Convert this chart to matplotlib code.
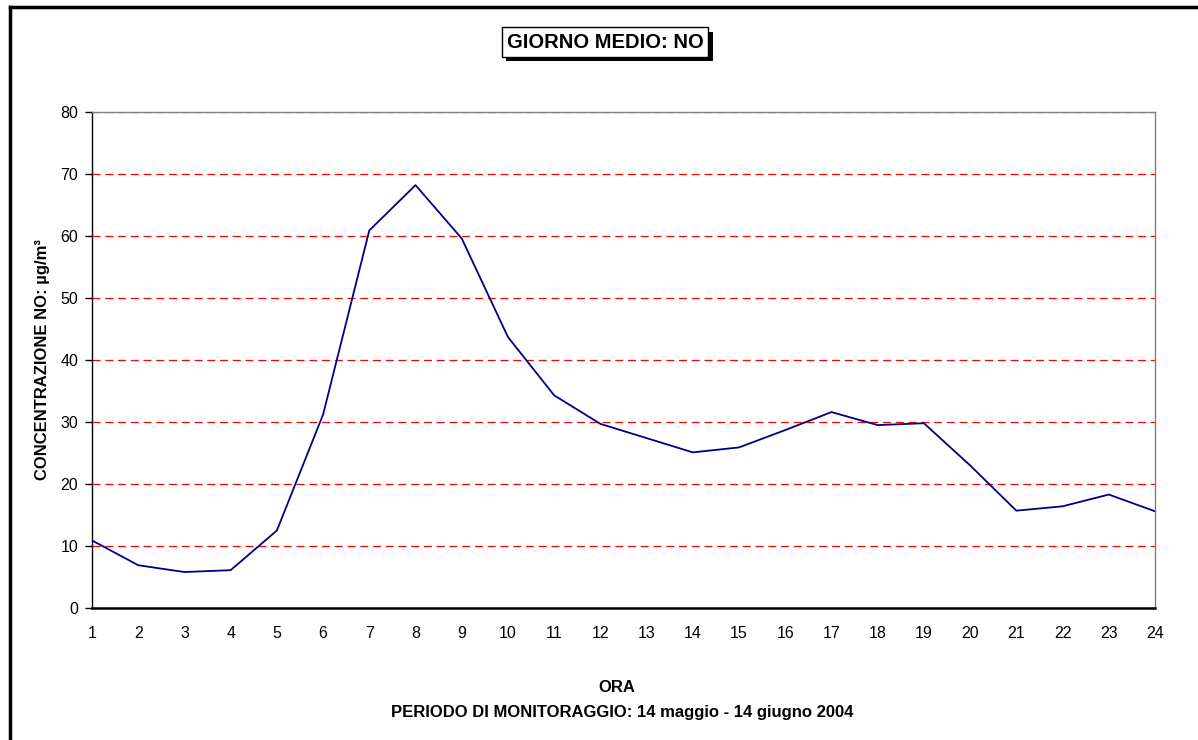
import matplotlib
matplotlib.use("Agg")
import matplotlib.pyplot as plt
import matplotlib.patheffects as pe
from matplotlib.lines import Line2D

plt.rcParams['font.family'] = ['Liberation Sans', 'DejaVu Sans']

# Hourly average NO concentration (µg/m³)
ore = list(range(1, 25))
concentrazione_no = [10.9, 6.9, 5.8, 6.1, 12.5, 31.2, 60.9, 68.2, 59.6, 43.7,
                     34.3, 29.7, 27.4, 25.1, 25.9, 28.7, 31.6, 29.5, 29.8, 23.0,
                     15.7, 16.4, 18.3, 15.6]
y_ticks = [0, 10, 20, 30, 40, 50, 60, 70, 80]

titolo = "GIORNO MEDIO: NO"
etichetta_y = "CONCENTRAZIONE NO: µg/m³"
etichetta_x = "ORA"
periodo = "PERIODO DI MONITORAGGIO: 14 maggio - 14 giugno 2004"

W, H = 1198, 740
fig = plt.figure(figsize=(W / 100, H / 100), dpi=100)
ax = fig.add_axes([92 / W, 1 - 608 / H, (1155 - 92) / W, (608 - 112) / H])

ax.plot(ore, concentrazione_no, color='#000080', linewidth=1.3, zorder=3)

ax.set_xlim(1, 24)
ax.set_ylim(0, 80)
ax.set_xticks(ore)
ax.set_yticks(y_ticks)
ax.tick_params(axis='x', length=0, pad=13, labelsize=11.5)
ax.tick_params(axis='y', length=5, width=1, direction='out', pad=5, labelsize=11.5)

ax.yaxis.grid(True, color='#ff0000', linestyle=(0, (6.4, 3.8)), linewidth=0.9)
ax.set_axisbelow(True)

ax.spines['left'].set_color('black')
ax.spines['left'].set_linewidth(1.0)
ax.spines['bottom'].set_color('black')
ax.spines['bottom'].set_linewidth(1.8)
for s in ('top', 'right'):
    ax.spines[s].set_color('#808080')
    ax.spines[s].set_linewidth(1.0)

# Axis titles
fig.text(43 / W, 1 - 360 / H, etichetta_y, rotation=90, ha='center', va='center',
         fontsize=12, fontweight='bold')
fig.text(617 / W, 1 - 688 / H, etichetta_x, ha='center', va='center',
         fontsize=12, fontweight='bold')
fig.text(622 / W, 1 - 712 / H, periodo, ha='center', va='center',
         fontsize=12, fontweight='bold')

# Boxed title with a drop shadow
t = fig.text(605 / W, 1 - 42 / H, titolo, ha='center', va='center',
             fontsize=14.5, fontweight='bold',
             bbox=dict(boxstyle='square,pad=0.25', fc='white', ec='black', lw=1.0))
t.get_bbox_patch().set_path_effects([
    pe.SimplePatchShadow(offset=(3, -3), shadow_rgbFace='black', alpha=1.0),
    pe.Normal()])

# Outer chart frame
fig.add_artist(Line2D([10 / W, 10 / W], [0, 1 - 6.5 / H], transform=fig.transFigure,
                      color='black', linewidth=2.5, solid_capstyle='projecting'))
fig.add_artist(Line2D([10 / W, 1], [1 - 6.5 / H, 1 - 6.5 / H], transform=fig.transFigure,
                      color='black', linewidth=2.5, solid_capstyle='projecting'))

fig.savefig('out.png', dpi=100, facecolor='white')
